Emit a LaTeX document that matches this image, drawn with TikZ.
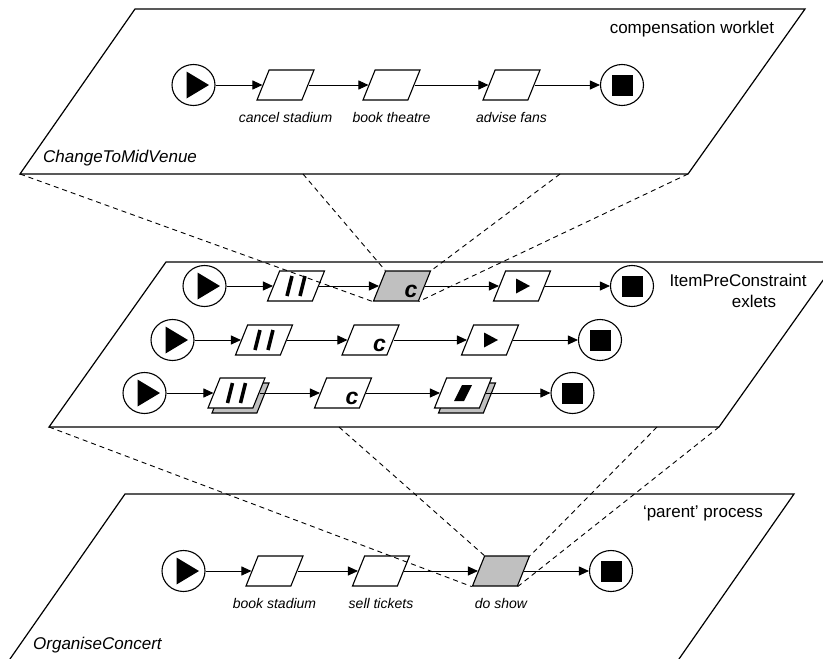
\documentclass[tikz,border=0pt]{standalone}
\usepackage{fontspec}
\setmainfont{Liberation Sans}
\usepackage{tikz}
\usetikzlibrary{arrows.meta,shapes.geometric,shadows}
\definecolor{figline}{RGB}{0,0,0}
\definecolor{taskgray}{RGB}{192,192,192}
\tikzset{
  plane/.style   ={draw=figline, line width=1.2pt},
  task/.style    ={draw=figline, line width=1.1pt, fill=white, trapezium, trapezium left angle=68,
                   trapezium right angle=112, trapezium stretches body=true,
                   minimum width=57pt, inner xsep=0pt, inner ysep=15pt},
  hottask/.style ={task, fill=taskgray},
  stacktask/.style={task, copy shadow={shadow xshift=4pt, shadow yshift=-5pt, fill=taskgray,
                   draw=figline, line width=1.1pt}},
  event/.style   ={draw=figline, line width=1.1pt, fill=white, ellipse, minimum width=43pt,
                   minimum height=41pt, inner sep=0pt},
  startev/.style ={event, path picture={\fill[figline] (path picture bounding box.center)
                   ++(-7,-13.5) -- ++(22.5,13.5) -- ++(-22.5,13.5) -- cycle;}},
  endev/.style   ={event, path picture={\fill[figline] (path picture bounding box.center)
                   ++(-10.5,-10.5) rectangle ++(21,21);}},
  flow/.style    ={draw=figline, line width=0.9pt, -{Triangle[length=10pt,width=9pt]}},
  link/.style    ={draw=figline, line width=0.9pt, dash pattern=on 5pt off 4pt},
  tlab/.style    ={font=\fontsize{14}{16}\selectfont\itshape, inner sep=1pt, label distance=11pt},
  plab/.style    ={font=\fontsize{17}{20}\selectfont, inner sep=1pt},
  cmark/.style   ={font=\fontsize{23}{24}\selectfont\bfseries\itshape, inner sep=0pt,
                   xshift=9pt, yshift=-5pt},
  pausebars/.pic ={\draw[figline, line width=3.6pt] (-4,-10) -- (-9,10);
                   \draw[figline, line width=3.6pt] (9,-10) -- (4,10);},
  playmark/.pic  ={\fill[figline] (-6,-7.5) -- (8,0) -- (-6,7.5) -- cycle;},
  stopmark/.pic  ={\fill[figline] (-1,-8) -- (9,-8) -- (1,8) -- (-9,8) -- cycle;},
}
\begin{document}
\begin{tikzpicture}[x=1pt,y=-1pt]
  \useasboundingbox (0,0) rectangle (823,659);
  \clip (0,0) rectangle (823,659);
  \coordinate (wTL) at (135,9);
  \coordinate (wTR) at (805,9);
  \coordinate (wBR) at (688,174);
  \coordinate (wBL) at (20,174);
  \coordinate (wb1) at (303,174);
  \coordinate (wb2) at (560,174);
  \draw[plane] (wBL) -- (wTL) -- (wTR) -- (wBR) -- cycle;
  \coordinate (xTL) at (166,262);
  \coordinate (xTR) at (836,262);
  \coordinate (xBR) at (719,427);
  \coordinate (xBL) at (49,427);
  \coordinate (xb1) at (339,427);
  \coordinate (xb2) at (657,427);
  \draw[plane] (xBL) -- (xTL) -- (xTR) -- (xBR) -- cycle;
  \coordinate (pTL) at (125,494);
  \coordinate (pTR) at (794,494);
  \coordinate (pBR) at (675.5,664);
  \coordinate (pBL) at (6.5,664);
  \draw[plane] (pBL) -- (pTL) -- (pTR) -- (pBR) -- cycle;
  \node[plab] (wname) at (692,29) {compensation worklet};
  \node[plab,anchor=west,font=\fontsize{17}{20}\selectfont\itshape] (wproc) at (42,158) {ChangeToMidVenue};
  \node[plab] (xname) at (738,280) {ItemPreConstraint};
  \node[plab] (xname2) at (754,301) {exlets};
  \node[plab] (pname) at (703,513) {`parent' process};
  \node[plab,anchor=west,font=\fontsize{17}{20}\selectfont\itshape] (pproc) at (32,645) {OrganiseConcert};
  \node[startev] (ws) at (193.5,85) {};
  \node[task,label={[tlab]below:cancel stadium}] (wt1) at (285.5,85) {};
  \node[task,label={[tlab]below:book theatre}] (wt2) at (391.5,85) {};
  \node[task,label={[tlab]below:advise fans}] (wt3) at (511.5,85) {};
  \node[endev] (we) at (622,85) {};
  \draw[flow] (ws) -- (wt1);
  \draw[flow] (wt1) -- (wt2);
  \draw[flow] (wt2) -- (wt3);
  \draw[flow] (wt3) -- (we);
  \node[startev] (as) at (204.5,286) {};
  \node[task] (at1) at (296,286) {};
  \pic at (at1) {pausebars};
  \node[hottask,label={[cmark]center:c}] (ac) at (402,286) {};
  \node[task] (at3) at (522,286) {};
  \pic at (at3) {playmark};
  \node[endev] (ae) at (632,286) {};
  \draw[flow] (as) -- (at1);
  \draw[flow] (at1) -- (ac);
  \draw[flow] (ac) -- (at3);
  \draw[flow] (at3) -- (ae);
  \node[startev] (bs) at (172.5,340) {};
  \node[task] (bt1) at (264,340) {};
  \pic at (bt1) {pausebars};
  \node[task,label={[cmark]center:c}] (bc) at (370.5,340) {};
  \node[task] (bt3) at (490,340) {};
  \pic at (bt3) {playmark};
  \node[endev] (be) at (600,340) {};
  \draw[flow] (bs) -- (bt1);
  \draw[flow] (bt1) -- (bc);
  \draw[flow] (bc) -- (bt3);
  \draw[flow] (bt3) -- (be);
  \node[startev] (cs) at (144.5,393) {};
  \node[stacktask] (ct1) at (236.5,393) {};
  \pic at (ct1) {pausebars};
  \node[task,label={[cmark]center:c}] (cc) at (343,393) {};
  \node[stacktask] (ct3) at (463,393) {};
  \pic at (ct3) {stopmark};
  \node[endev] (ce) at (572.5,393) {};
  \draw[flow] (cs) -- (ct1);
  \draw[flow] (ct1) -- (cc);
  \draw[flow] (cc) -- (ct3);
  \draw[flow] (ct3) -- (ce);
  \node[startev] (ps) at (183.5,571) {};
  \node[task,label={[tlab]below:book stadium}] (pt1) at (274.5,571) {};
  \node[task,label={[tlab]below:sell tickets}] (pt2) at (381,571) {};
  \node[hottask,label={[tlab]below:do show}] (pt3) at (501,571) {};
  \node[endev] (pe) at (611,571) {};
  \draw[flow] (ps) -- (pt1);
  \draw[flow] (pt1) -- (pt2);
  \draw[flow] (pt2) -- (pt3);
  \draw[flow] (pt3) -- (pe);
  \draw[link] (wBL) -- (ac.bottom left corner);
  \draw[link] (wb1) -- (ac.top left corner);
  \draw[link] (wb2) -- (ac.top right corner);
  \draw[link] (wBR) -- (ac.bottom right corner);
  \draw[link] (xBL) -- (pt3.bottom left corner);
  \draw[link] (xb1) -- (pt3.top left corner);
  \draw[link] (xb2) -- (pt3.top right corner);
  \draw[link] (xBR) -- (pt3.bottom right corner);
\end{tikzpicture}
\end{document}
